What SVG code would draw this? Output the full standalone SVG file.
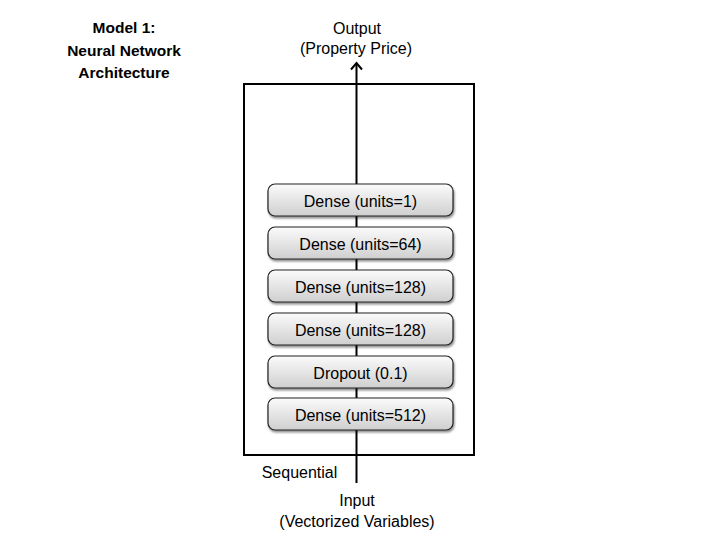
<svg xmlns="http://www.w3.org/2000/svg" width="720" height="540" viewBox="0 0 720 540">
  <defs>
    <linearGradient id="layerFill" x1="0" y1="0" x2="0" y2="1">
      <stop offset="0" stop-color="#fbfbfb"/>
      <stop offset="1" stop-color="#cfcfcf"/>
    </linearGradient>
    <filter id="shadow" x="-10%" y="-30%" width="120%" height="160%">
      <feGaussianBlur in="SourceAlpha" stdDeviation="1.2"/>
      <feOffset dx="1" dy="1.5" result="b"/>
      <feComponentTransfer><feFuncA type="linear" slope="0.45"/></feComponentTransfer>
      <feMerge><feMergeNode/><feMergeNode in="SourceGraphic"/></feMerge>
    </filter>
    <marker id="arrowHead" markerWidth="12" markerHeight="14" refX="8" refY="7" orient="auto" markerUnits="userSpaceOnUse" viewBox="0 0 12 14">
      <path d="M1.5,1.5 L8,7 L1.5,12.5" fill="none" stroke="#000" stroke-width="2"/>
    </marker>
  </defs>
  <style>
    text { font-family: "Liberation Sans", Arial, sans-serif; fill: #000; }
    .lbl { font-size: 16px; text-anchor: middle; }
    .title { font-size: 15.5px; font-weight: bold; text-anchor: middle; }
    .layer rect { fill: url(#layerFill); stroke: #222; stroke-width: 1.2; filter: url(#shadow); }
    .frame { fill: #fff; stroke: #000; stroke-width: 2; }
  </style>

  <rect width="720" height="540" fill="#fff"/>

  <g id="title">
    <text class="title" x="124" y="33">Model 1:</text>
    <text class="title" x="124" y="56">Neural Network</text>
    <text class="title" x="124" y="78">Architecture</text>
  </g>

  <g id="sequential">
    <rect class="frame" x="244" y="84" width="230" height="371"/>
    <text class="lbl" x="299.5" y="478">Sequential</text>
  </g>

  <g id="connectors">
    <line x1="356.5" y1="483" x2="356.5" y2="63" stroke="#000" stroke-width="2" marker-end="url(#arrowHead)"/>
  </g>

  <g id="layer-dense-1" class="layer">
    <rect x="268" y="184" width="185" height="32" rx="7"/>
    <text class="lbl" x="360.5" y="206.5">Dense (units=1)</text>
  </g>
  <g id="layer-dense-64" class="layer">
    <rect x="268" y="227" width="185" height="32" rx="7"/>
    <text class="lbl" x="360.5" y="249.5">Dense (units=64)</text>
  </g>
  <g id="layer-dense-128a" class="layer">
    <rect x="268" y="270" width="185" height="32" rx="7"/>
    <text class="lbl" x="360.5" y="292.5">Dense (units=128)</text>
  </g>
  <g id="layer-dense-128b" class="layer">
    <rect x="268" y="313" width="185" height="32" rx="7"/>
    <text class="lbl" x="360.5" y="335.5">Dense (units=128)</text>
  </g>
  <g id="layer-dropout" class="layer">
    <rect x="268" y="356" width="185" height="32" rx="7"/>
    <text class="lbl" x="360.5" y="378.5">Dropout (0.1)</text>
  </g>
  <g id="layer-dense-512" class="layer">
    <rect x="268" y="398" width="185" height="32" rx="7"/>
    <text class="lbl" x="360.5" y="420.5">Dense (units=512)</text>
  </g>

  <g id="output">
    <text class="lbl" x="357" y="34">Output</text>
    <text class="lbl" x="356" y="54">(Property Price)</text>
  </g>

  <g id="input">
    <text class="lbl" x="357" y="506">Input</text>
    <text class="lbl" x="357" y="527">(Vectorized Variables)</text>
  </g>
</svg>
